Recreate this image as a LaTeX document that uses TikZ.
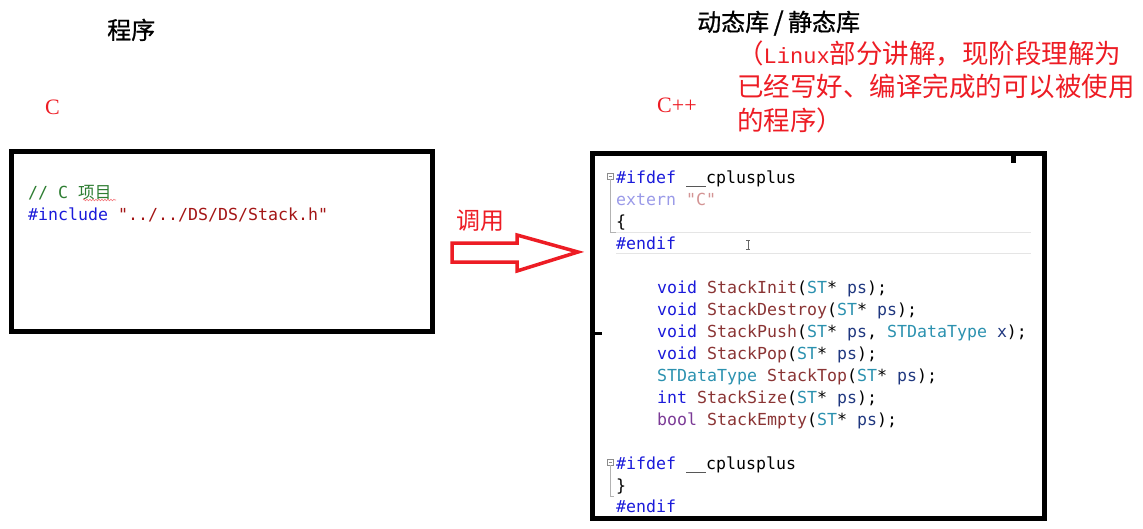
\documentclass[tikz,border=0pt]{standalone}
\usepackage{fontspec}
\setmainfont{Liberation Serif}
\setmonofont{DejaVu Sans Mono}
\newfontfamily\cjk{Noto Sans CJK SC}
\newfontfamily\cjkb[FakeBold=0.8]{Noto Sans CJK SC}
\newfontfamily\lmono{Liberation Mono}
\usetikzlibrary{decorations.pathmorphing}
\definecolor{redc}{HTML}{ED1C24}
\definecolor{kw}{HTML}{1A1ADA}
\definecolor{fn}{HTML}{8A3434}
\definecolor{ty}{HTML}{2B91AF}
\definecolor{par}{HTML}{1F377F}
\definecolor{strc}{HTML}{A31515}
\definecolor{cmc}{HTML}{2E7D32}
\definecolor{pur}{HTML}{7B3A96}
\definecolor{gkw}{HTML}{9A9AE8}
\definecolor{gstr}{HTML}{D39494}
\newcommand{\K}[1]{\textcolor{kw}{#1}}
\newcommand{\F}[1]{\textcolor{fn}{#1}}
\newcommand{\T}[1]{\textcolor{ty}{#1}}
\newcommand{\PP}[1]{\textcolor{par}{#1}}
\begin{document}
\begin{tikzpicture}[x=1pt,y=-1pt,
  title/.style={font=\cjkb\fontsize{24}{28}\selectfont, anchor=base west, inner sep=0},
  redtxt/.style={text=redc, font=\fontsize{22}{26}\selectfont, anchor=base west, inner sep=0},
  note/.style={text=redc, font=\cjk\fontsize{26.5}{33.5}\selectfont, anchor=base west, inner sep=0},
  code/.style={font=\ttfamily\fontsize{16.6}{20}\selectfont, anchor=base west, inner sep=0},
  box/.style={draw=black, line width=5pt, outer sep=0pt, inner sep=0pt},
  blockarrow/.style={draw=redc, line width=3.5pt, line join=miter, fill=white}
]
\useasboundingbox (0,0) rectangle (1143,528);

% titles
\node[title] (t1) at (107,39) {程序};
\node[title] (t2) at (697,31) {动态库{\fontsize{26}{28}\selectfont\,/\,}静态库};
\node[redtxt] (c) at (45,114) {C};
\node[redtxt] (cpp) at (657,112) {C++};
\node[note] (n1) at (737,63) {（{\lmono\fontsize{22}{26}\selectfont Linux}部分讲解，现阶段理解为};
\node[note] (n2) at (737,96.5) {已经写好、编译完成的可以被使用};
\node[note] (n3) at (737,130) {的程序）};

% left box
\node[box, minimum width=421pt, minimum height=180pt, anchor=north west] (lb) at (11.5,151.5) {};
\node[code, text=cmc] (l1) at (28,198) {// C {\cjk 项目}};
\draw[redc!60, line width=0.6pt, decorate, decoration={snake, amplitude=0.8pt, segment length=3pt}] (83,200) -- (116,200);
\node[code] (l2) at (28,220) {\K{\#include} \textcolor{strc}{"../../DS/DS/Stack.h"}};

% call label and arrow
\node[note, font=\cjk\fontsize{24}{28}\selectfont] (call) at (456,229) {调用};
\draw[blockarrow] (452,243) -- (517,243) -- (517,235) -- (578,252) -- (517,271) -- (517,262) -- (452,262) -- cycle;

% right box
\node[box, minimum width=452pt, minimum height=365pt, anchor=north west] (rb) at (592.5,153.5) {};
\fill (1011,156) rectangle (1016,163);
\fill (594,332) rectangle (602,335);

% highlight of #endif line
\draw[black!10, line width=1pt] (616,232.5) -- (1031,232.5);
\draw[black!10, line width=1pt] (616,253.5) -- (1031,253.5);
% fold markers
\draw[black!45, line width=0.6pt] (607.5,173.5) rectangle (613,179);
\draw[black!45, line width=0.6pt] (608.5,176.25) -- (612,176.25);
\draw[black!30, line width=0.6pt] (610.25,179) -- (610.25,232) -- (616,232);
\draw[black!45, line width=0.6pt] (607.5,459.5) rectangle (613,465);
\draw[black!45, line width=0.6pt] (608.5,462.25) -- (612,462.25);
\draw[black!30, line width=0.6pt] (610.25,465) -- (610.25,496) -- (614,496);

\node[code] (r1) at (616,183) {\K{\#ifdef} \_\_cplusplus};
\node[code] (r2) at (616,205) {\textcolor{gkw}{extern} \textcolor{gstr}{"C"}};
\node[code] (r3) at (616,227) {\{};
\node[code] (r4) at (616,249) {\K{\#endif}};
\draw[black!60, line width=0.7pt] (748,240) -- (748,249) (746,240) -- (750,240) (746,249) -- (750,249);

\node[code] (f1) at (657,293) {\K{void} \F{StackInit}(\T{ST}* \PP{ps});};
\node[code] (f2) at (657,315) {\K{void} \F{StackDestroy}(\T{ST}* \PP{ps});};
\node[code] (f3) at (657,337) {\K{void} \F{StackPush}(\T{ST}* \PP{ps}, \T{STDataType} \PP{x});};
\node[code] (f4) at (657,359) {\K{void} \F{StackPop}(\T{ST}* \PP{ps});};
\node[code] (f5) at (657,381) {\T{STDataType} \F{StackTop}(\T{ST}* \PP{ps});};
\node[code] (f6) at (657,403) {\K{int} \F{StackSize}(\T{ST}* \PP{ps});};
\node[code] (f7) at (657,425) {\textcolor{pur}{bool} \F{StackEmpty}(\T{ST}* \PP{ps});};

\node[code] (e1) at (616,469) {\K{\#ifdef} \_\_cplusplus};
\node[code] (e2) at (616,491) {\}};
\node[code] (e3) at (616,512) {\K{\#endif}};
\end{tikzpicture}
\end{document}
